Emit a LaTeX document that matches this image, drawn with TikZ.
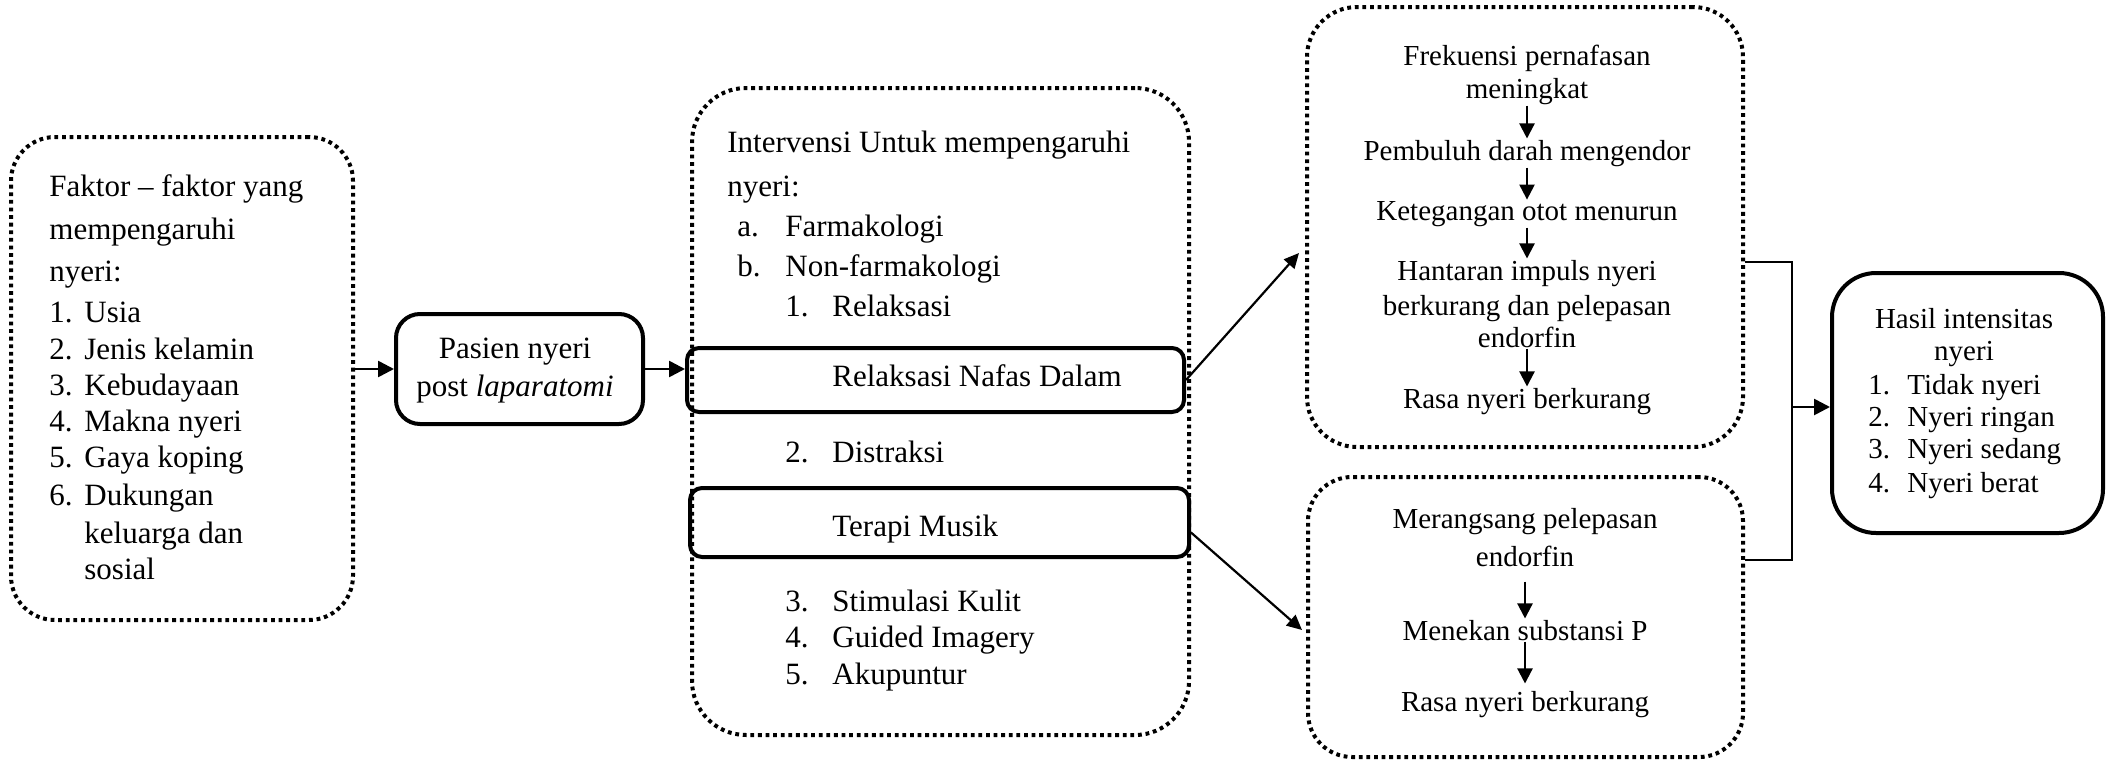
\documentclass[tikz,border=0pt]{standalone}
\usepackage{fontspec}
\setmainfont{Liberation Serif}
\usetikzlibrary{arrows.meta,calc}
\begin{document}
\begin{tikzpicture}[x=0.5pt,y=-0.5pt]
\tikzset{
 dotbox/.style={draw,line width=2pt,dash pattern=on 1.9pt off 1.9pt,inner sep=0pt},
 solidbox/.style={draw,line width=2pt,inner sep=0pt},
 big/.style={font=\fontsize{15.5}{18}\selectfont,inner sep=0pt},
 small/.style={font=\fontsize{14.5}{16.5}\selectfont,inner sep=0.5pt},
 arr/.style={line width=1.3pt,-{Triangle[length=8pt,width=8pt]}},
 darr/.style={line width=1.1pt,-{Triangle[length=7.5pt,width=7pt]}},
 iarr/.style={line width=1.1pt,-{Triangle[length=7.5pt,width=7.5pt]}},
 bline/.style={line width=0.8pt},
}
\useasboundingbox (0,0) rectangle (2114,760);

% boxes
\node[dotbox,rounded corners=22pt,minimum width=171pt,minimum height=241.5pt] (fak) at (182,378.5) {};
\node[solidbox,rounded corners=12pt,minimum width=123.5pt,minimum height=55pt] (pas) at (519.5,369) {};
\node[dotbox,rounded corners=27pt,minimum width=248.5pt,minimum height=323.5pt] (mid) at (940.5,411.5) {};
\node[solidbox,rounded corners=6pt,minimum width=248.5pt,minimum height=32pt] (rnd) at (935.5,380) {};
\node[solidbox,rounded corners=6pt,minimum width=249.5pt,minimum height=34.5pt] (tm) at (939.5,522.5) {};
\node[dotbox,rounded corners=25pt,minimum width=218pt,minimum height=220pt] (up) at (1525,227) {};
\node[dotbox,rounded corners=22pt,minimum width=217.5pt,minimum height=140pt] (low) at (1525.5,617) {};
\node[solidbox,rounded corners=22pt,minimum width=135.5pt,minimum height=130pt] (res) at (1967.5,403) {};

% left box text
\node[big,anchor=base west] (f1) at (49,196) {Faktor – faktor yang};
\node[big,anchor=base west] (f2) at (49,239) {mempengaruhi};
\node[big,anchor=base west] (f3) at (49,281) {nyeri:};
\foreach \n/\lbl/\yy in {1/Usia/322,2/Jenis kelamin/359,3/Kebudayaan/395,4/Makna nyeri/431,5/Gaya koping/467,6/Dukungan/505}{
  \node[big,anchor=base west] (fn\n) at (49,\yy) {\n.};
  \node[big,anchor=base west] (ft\n) at (84,\yy) {\lbl};
}
\node[big,anchor=base west] (fk) at (84,543) {keluarga dan};
\node[big,anchor=base west] (fs) at (84,579) {sosial};

% pasien text
\node[big,anchor=base] (p1) at (515,358) {Pasien nyeri};
\node[big,anchor=base] (p2) at (515,396) {post \textit{laparatomi}};

% middle text
\node[big,anchor=base west] (m1) at (727,152) {Intervensi Untuk mempengaruhi};
\node[big,anchor=base west] (m2) at (727,196) {nyeri:};
\node[big,anchor=base west] (ma) at (737,236) {a.};
\node[big,anchor=base west] (mat) at (785,236) {Farmakologi};
\node[big,anchor=base west] (mb) at (737,276) {b.};
\node[big,anchor=base west] (mbt) at (785,276) {Non-farmakologi};
\node[big,anchor=base west] (n1) at (785,316) {1.};
\node[big,anchor=base west] (n1t) at (832,316) {Relaksasi};
\node[big,anchor=base west] (rndt) at (832,386) {Relaksasi Nafas Dalam};
\node[big,anchor=base west] (n2) at (785,462) {2.};
\node[big,anchor=base west] (n2t) at (832,462) {Distraksi};
\node[big,anchor=base west] (tmt) at (832,536) {Terapi Musik};
\node[big,anchor=base west] (n3) at (785,611) {3.};
\node[big,anchor=base west] (n3t) at (832,611) {Stimulasi Kulit};
\node[big,anchor=base west] (n4) at (785,647) {4.};
\node[big,anchor=base west] (n4t) at (832,647) {Guided Imagery};
\node[big,anchor=base west] (n5) at (785,684) {5.};
\node[big,anchor=base west] (n5t) at (832,684) {Akupuntur};

% upper right text
\node[small,anchor=base] (u1) at (1527,65) {Frekuensi pernafasan};
\node[small,anchor=base] (u2) at (1527,98) {meningkat};
\node[small,anchor=base] (u3) at (1527,160) {Pembuluh darah mengendor};
\node[small,anchor=base] (u4) at (1527,220) {Ketegangan otot menurun};
\node[small,anchor=base] (u5) at (1527,280) {Hantaran impuls nyeri};
\node[small,anchor=base] (u6) at (1527,315) {berkurang dan pelepasan};
\node[small,anchor=base] (u7) at (1527,347) {endorfin};
\node[small,anchor=base] (u8) at (1527,408) {Rasa nyeri berkurang};
\draw[iarr] (u2.south) -- (u3.north);
\draw[iarr] (u3.south) -- (u4.north);
\draw[iarr] (u4.south) -- (u5.north);
\draw[iarr] (u7.south) -- (u8.north);

% lower right text
\node[small,anchor=base] (l1) at (1525,528) {Merangsang pelepasan};
\node[small,anchor=base] (l2) at (1525,566) {endorfin};
\node[small,anchor=base] (l3) at (1525,640) {Menekan substansi P};
\node[small,anchor=base] (l4) at (1525,711) {Rasa nyeri berkurang};
\draw[iarr,shorten <=7pt] (l2.south) -- (l3.north);
\draw[iarr,shorten >=3pt] (l3.south) -- (l4.north);

% result text
\node[small,anchor=base] (r1) at (1964,328) {Hasil intensitas};
\node[small,anchor=base] (r2) at (1964,360) {nyeri};
\foreach \n/\lbl/\yy in {1/Tidak nyeri/394,2/Nyeri ringan/426,3/Nyeri sedang/458,4/Nyeri berat/492}{
  \node[small,anchor=base west,inner sep=0pt] (rn\n) at (1868,\yy) {\n.};
  \node[small,anchor=base west,inner sep=0pt] (rt\n) at (1907,\yy) {\lbl};
}

% connectors
\draw[arr] (fak.east |- pas.west) -- (pas.west);
\draw[arr] (pas.east) -- (rnd.west |- pas.east);
\draw[darr] (rnd.east) -- ($(up.west)+(-6,26)$);
\draw[darr] ($(tm.east)+(0,10)$) -- ($(low.west)+(-4,13)$);
\coordinate (j1) at (1792,262);
\coordinate (j2) at (1792,560);
\coordinate (jm) at (1792,407);
\draw[bline] (up.east |- j1) -- (j1) -- (j2) -- (low.east |- j2);
\draw[arr] (jm) -- (res.west |- jm);
\end{tikzpicture}
\end{document}
